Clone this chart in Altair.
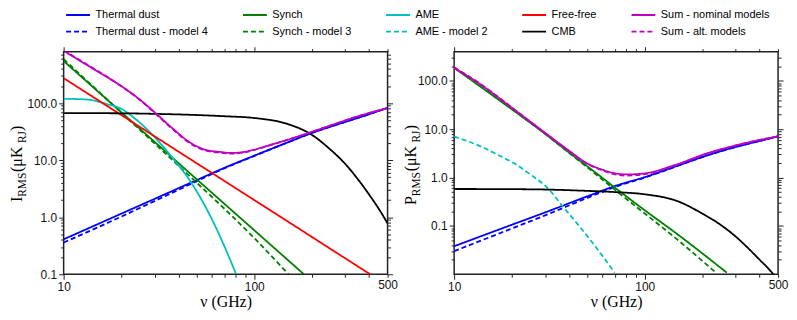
import altair as alt
import pandas as pd

# ---------------- data ----------------
# Left panel: intensity RMS (uK_RJ)
dust_I_f = [10, 20, 30, 50, 70, 100, 150, 200, 300, 400, 500]
dust_I_v = [0.41, 1.15, 2.1, 4.5, 7.4, 12, 20.6, 30, 47, 64, 83]
dust4_I_v = [0.36, 1.02, 1.92, 4.3, 7.25, 11.9, 20.6, 30, 47, 64, 83]

synch_I_f = [10, 20, 50, 100, 182]
synch_I_v = [548, 70, 4.6, 0.59, 0.1]
synch3_I_f = [10, 20, 50, 70, 100, 151]
synch3_I_v = [590, 69, 4.0, 1.39, 0.43, 0.1]

ame_I_f = [10, 12, 13.8, 16.8, 19.7, 25, 30.5, 37.3, 45.5, 55.6, 65.2, 70.6, 80.3]
ame_I_v = [119, 118, 114, 97, 82, 46, 24, 10.9, 4.6, 1.5, 0.51, 0.28, 0.1]

ff_I_f = [10, 50, 100, 405]
ff_I_v = [275, 8.8, 2.0, 0.1]

cmb_I_f = [10, 20, 30, 50, 70, 100, 150, 200, 250, 300, 350, 400, 450, 500]
cmb_I_v = [67, 66.5, 65, 62, 59, 55, 43, 28, 15.5, 8.6, 4.6, 2.5, 1.4, 0.78]

sum_I_f = [10, 13.8, 16.8, 20.5, 25, 30.5, 37.3, 45.5, 55.6, 67, 75, 85, 99, 121, 148, 189, 269, 356, 500]
sum_I_v = [830, 430, 290, 190, 117, 66, 36, 21, 15.2, 13.9, 13.4, 13.7, 15.2, 18.5, 22.6, 29.5, 44, 60, 82]
sumalt_I_v = [850, 440, 294, 189, 115, 64, 35, 20.3, 14.7, 13.5, 13.0, 13.4, 15.0, 18.3, 22.5, 29.4, 44, 60, 82]

# Right panel: polarization RMS (uK_RJ)
dust_P_f = [10, 20, 30, 50, 70, 100, 150, 200, 300, 400, 500]
dust_P_v = [0.038, 0.105, 0.19, 0.41, 0.67, 1.02, 1.78, 2.65, 4.3, 5.7, 7.1]
dust4_P_v = [0.030, 0.088, 0.165, 0.38, 0.64, 1.0, 1.76, 2.65, 4.3, 5.7, 7.1]

synch_P_f = [10, 20, 30, 40, 50, 60, 70, 100, 150, 269]
synch_P_v = [185, 26, 8.0, 3.3, 1.7, 0.98, 0.61, 0.21, 0.065, 0.0108]
synch3_P_f = [10, 20, 30, 40, 50, 60, 70, 100, 150, 236]
synch3_P_v = [190, 26.5, 8.0, 3.25, 1.62, 0.9, 0.55, 0.18, 0.05, 0.0108]

ame2_P_f = [10, 13.8, 16.8, 20.5, 25, 30.6, 37.4, 45.6, 55.8, 69.5]
ame2_P_v = [7.0, 4.4, 3.0, 2.0, 1.17, 0.63, 0.245, 0.096, 0.035, 0.0108]

cmb_P_f = [10, 20, 30, 50, 70, 100, 150, 200, 250, 300, 350, 400, 450, 500]
cmb_P_v = [0.58, 0.575, 0.565, 0.53, 0.50, 0.45, 0.32, 0.18, 0.105, 0.06, 0.034, 0.02, 0.0125, 0.0075]

sum_P_f = [10, 14, 20, 30, 40, 50, 60, 70, 80, 100, 143, 214, 319, 500]
sum_P_v = [185, 80, 28, 8.4, 3.6, 1.95, 1.45, 1.22, 1.16, 1.22, 1.8, 3.2, 4.9, 7.1]
sumalt_P_v = [190, 82, 28.5, 8.3, 3.5, 1.9, 1.4, 1.16, 1.1, 1.17, 1.75, 3.15, 4.9, 7.1]

# axis ticks
X_TICKS = [10, 20, 30, 40, 50, 60, 70, 80, 90, 100, 200, 300, 400, 500]
X_LABELED = [10, 100, 500]
YI_TICKS = [0.1, 0.2, 0.3, 0.4, 0.5, 0.6, 0.7, 0.8, 0.9,
            1, 2, 3, 4, 5, 6, 7, 8, 9,
            10, 20, 30, 40, 50, 60, 70, 80, 90,
            100, 200, 300, 400, 500, 600, 700]
YP_TICKS = [0.02, 0.03, 0.04, 0.05, 0.06, 0.07, 0.08, 0.09,
            0.1, 0.2, 0.3, 0.4, 0.5, 0.6, 0.7, 0.8, 0.9,
            1, 2, 3, 4, 5, 6, 7, 8, 9,
            10, 20, 30, 40, 50, 60, 70, 80, 90,
            100, 200, 300]
Y_LABELED = [0.1, 1, 10, 100]

# legend order (filled column by column: 5 columns x 2 rows)
SERIES = ["Thermal dust", "Thermal dust - model 4", "Synch", "Synch - model 3",
          "AME", "AME - model 2", "Free-free", "CMB",
          "Sum - nominal models", "Sum - alt. models"]
COLORS = ["#0000ff", "#0000ff", "#008000", "#008000", "#00bfbf",
          "#00bfbf", "#ff0000", "#000000", "#bf00bf", "#bf00bf"]
DASHES = [[1, 0], [5, 3], [1, 0], [5, 3], [1, 0],
          [5, 3], [1, 0], [1, 0], [1, 0], [5, 3]]
DRAW_ORDER = SERIES

rows = []


def add(panel, name, f, v):
    for a, b in zip(f, v):
        rows.append({"panel": panel, "series": name, "freq": a, "value": b})


add("I", "Thermal dust", dust_I_f, dust_I_v)
add("I", "Thermal dust - model 4", dust_I_f, dust4_I_v)
add("I", "Synch", synch_I_f, synch_I_v)
add("I", "Synch - model 3", synch3_I_f, synch3_I_v)
add("I", "AME", ame_I_f, ame_I_v)
add("I", "Free-free", ff_I_f, ff_I_v)
add("I", "CMB", cmb_I_f, cmb_I_v)
add("I", "Sum - nominal models", sum_I_f, sum_I_v)
add("I", "Sum - alt. models", sum_I_f, sumalt_I_v)

add("P", "Thermal dust", dust_P_f, dust_P_v)
add("P", "Thermal dust - model 4", dust_P_f, dust4_P_v)
add("P", "Synch", synch_P_f, synch_P_v)
add("P", "Synch - model 3", synch3_P_f, synch3_P_v)
add("P", "AME - model 2", ame2_P_f, ame2_P_v)
add("P", "CMB", cmb_P_f, cmb_P_v)
add("P", "Sum - nominal models", sum_P_f, sum_P_v)
add("P", "Sum - alt. models", sum_P_f, sumalt_P_v)

df = pd.DataFrame(rows)

LABEL_FONT = "Liberation Sans"
TITLE_FONT = "Liberation Serif"
W, H = 326, 224


def ticksize(major):
    return {"condition": {"test": "indexof(%s, datum.value) >= 0" % major, "value": 5}, "value": 3}


color_enc = alt.Color("series:N", scale=alt.Scale(domain=SERIES, range=COLORS), legend=alt.Legend(title=None))
dash_enc = alt.StrokeDash("series:N", scale=alt.Scale(domain=SERIES, range=DASHES), legend=alt.Legend(title=None))


def panel(pname, ydomain, yticks, title_main, title_x, title_y0, main_w):
    d = df[df.panel == pname]
    xs = alt.Scale(type="log", domain=[10, 500], nice=False)
    ys = alt.Scale(type="log", domain=ydomain, nice=False)
    x_enc = alt.X("freq:Q", scale=xs, axis=alt.Axis(
        values=X_TICKS, labelExpr="indexof(%s, datum.value) >= 0 ? format(datum.value, 'd') : ''" % X_LABELED,
        tickSize=ticksize("[10, 100]"), labelFlush=False, labelOverlap=False, title="ν (GHz)",
        titleFont=TITLE_FONT, titleFontSize=16, titleFontWeight="normal", titlePadding=14,
        titleBaseline="alphabetic"))
    y_enc = alt.Y("value:Q", scale=ys, axis=alt.Axis(
        values=yticks, labelExpr="indexof(%s, datum.value) >= 0 ? format(datum.value, '.1f') : ''" % Y_LABELED,
        tickSize=ticksize("[0.01, 0.1, 1, 10, 100]"), labelOverlap=False, title=None))
    present = set(d.series)
    lines = []
    for s in DRAW_ORDER:
        if s not in present:
            continue
        lines.append(alt.Chart(d).transform_filter(alt.datum.series == s)
                     .mark_line(clip=True, strokeWidth=1.8, interpolate="monotone")
                     .encode(x=x_enc, y=y_enc, color=color_enc, strokeDash=dash_enc))
    inner = alt.layer(*lines)
    mirror = alt.Chart(d).mark_point(opacity=0, clip=True).encode(
        x=alt.X("freq:Q", scale=xs, axis=alt.Axis(orient="top", values=X_TICKS, labels=False,
                                                  tickSize=ticksize("[10, 100]"), title=None)),
        y=alt.Y("value:Q", scale=ys, axis=alt.Axis(orient="right", values=yticks, labels=False,
                                                   tickSize=ticksize("[0.01, 0.1, 1, 10, 100]"), title=None)))
    # y-axis title built from pieces (main letter, subscripts)
    one = pd.DataFrame({"k": [0]})
    pieces = [(title_main, 16, 0, main_w), ("RMS", 11.5, 3.5, 25.0), ("\u00a0(\u03bcK", 16, 0, 29.0),
              ("RJ", 11.5, 3.5, 12.3), (")", 16, 0, 5.3)]
    texts = []
    yy = title_y0
    for txt, size, dx, wdt in pieces:
        texts.append(alt.Chart(one).mark_text(text=txt, angle=270, align="left", baseline="alphabetic",
                                              font=TITLE_FONT, fontSize=size, color="black")
                     .encode(x=alt.value(title_x + dx), y=alt.value(yy)))
        yy -= wdt
    return alt.layer(inner, mirror, *texts).resolve_axis(x="independent", y="independent").properties(width=W, height=H)


left = panel("I", [0.1, 800], YI_TICKS, "I", -41.5, 151.3, 5.3)
right = panel("P", [0.01, 400], YP_TICKS, "P", -38.0, 154.3, 8.9)

chart = alt.hconcat(left, right, spacing=67, bounds="flush").resolve_scale(
    x="independent", y="independent", color="shared", strokeDash="shared"
).properties(
    padding={"left": 0, "top": 0, "right": 0, "bottom": 0}
).configure_view(stroke="#222", strokeWidth=1.5).configure_axis(
    grid=False, domain=False, labelFont=LABEL_FONT, labelFontSize=12, labelColor="#111",
    labelPadding=2, tickColor="#222", tickWidth=1, titleColor="black"
).configure_legend(
    orient="none", legendX=9, legendY=-42.7, columns=5, symbolType="M-3,0H3", symbolSize=64,
    symbolStrokeWidth=2, labelFont=LABEL_FONT, labelFontSize=11, labelColor="black",
    columnPadding=30, rowPadding=5, gridAlign="each", labelOffset=12
)

chart.save("out.html", embed_options={"renderer": "svg", "actions": False})
